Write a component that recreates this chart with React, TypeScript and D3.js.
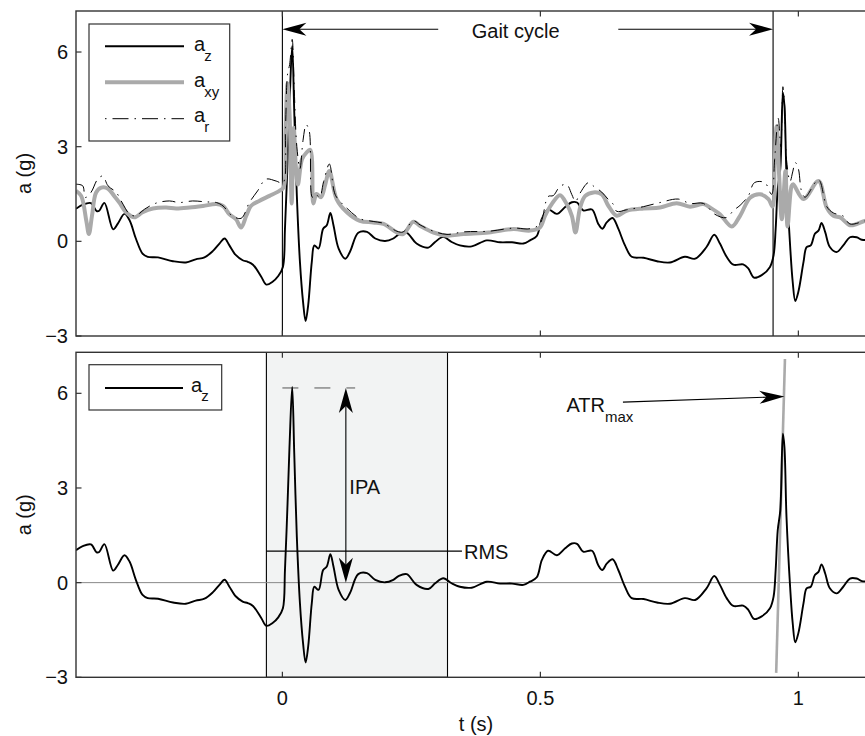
import React from 'react';
import * as d3 from 'd3';

// ---------- data ----------
const azTime = [-0.4, -0.387, -0.371, -0.36, -0.355, -0.345, -0.328, -0.319, -0.306, -0.296, -0.284, -0.271, -0.261, -0.241, -0.212, -0.187, -0.168, -0.151, -0.135, -0.122, -0.112, -0.103, -0.09, -0.077, -0.067, -0.057, -0.041, -0.031, -0.019, -0.008, 0.001, 0.005, 0.01, 0.014, 0.019, 0.023, 0.028, 0.034, 0.04, 0.045, 0.05, 0.057, 0.062, 0.07, 0.079, 0.086, 0.093, 0.099, 0.109, 0.122, 0.131, 0.147, 0.164, 0.18, 0.199, 0.215, 0.225, 0.241, 0.26, 0.283, 0.296, 0.312, 0.328, 0.344, 0.367, 0.396, 0.422, 0.445, 0.467, 0.48, 0.493, 0.503, 0.515, 0.532, 0.548, 0.561, 0.571, 0.583, 0.6, 0.612, 0.62, 0.629, 0.64, 0.651, 0.664, 0.677, 0.7, 0.726, 0.751, 0.78, 0.8, 0.822, 0.837, 0.848, 0.861, 0.874, 0.893, 0.903, 0.914, 0.929, 0.945, 0.952, 0.956, 0.96, 0.965, 0.97, 0.973, 0.977, 0.984, 0.989, 0.994, 1.0, 1.01, 1.016, 1.024, 1.032, 1.039, 1.045, 1.052, 1.061, 1.074, 1.087, 1.1, 1.113, 1.123, 1.14];
const azValue = [1.03, 1.16, 1.21, 0.96, 0.97, 1.22, 0.38, 0.56, 0.87, 0.66, 0.09, -0.39, -0.49, -0.51, -0.63, -0.67, -0.57, -0.51, -0.31, -0.07, 0.09, -0.12, -0.44, -0.6, -0.65, -0.74, -1.12, -1.37, -1.28, -1.1, -0.81, 0.4, 2.51, 4.4, 6.2, 4.09, 1.45, -0.65, -1.91, -2.53, -2.02, -0.65, -0.13, -0.23, 0.4, 0.51, 0.9, 0.51, -0.23, -0.55, -0.33, 0.27, 0.3, 0.09, 0.01, 0.09, 0.21, 0.27, -0.07, -0.2, -0.02, 0.14, -0.02, -0.13, -0.16, 0.03, -0.03, -0.03, -0.07, 0.03, 0.17, 0.72, 1.01, 0.87, 1.09, 1.24, 1.23, 0.98, 1.01, 0.56, 0.4, 0.61, 0.74, 0.4, -0.13, -0.49, -0.52, -0.63, -0.67, -0.49, -0.55, -0.18, 0.21, -0.07, -0.49, -0.74, -0.73, -0.86, -1.15, -1.07, -0.81, -0.44, 0.4, 1.66, 2.3, 4.72, 4.3, 2.08, -0.13, -1.28, -1.89, -1.6, -0.65, -0.18, -0.13, 0.24, 0.34, 0.58, 0.29, -0.18, -0.34, -0.13, 0.13, 0.13, 0.05, 0.05];

const axyTime = [-0.4, -0.39, -0.38, -0.375, -0.369, -0.361, -0.351, -0.338, -0.326, -0.316, -0.303, -0.287, -0.271, -0.251, -0.225, -0.206, -0.18, -0.154, -0.128, -0.115, -0.103, -0.09, -0.08, -0.07, -0.061, -0.045, -0.025, -0.006, 0.002, 0.006, 0.01, 0.014, 0.018, 0.022, 0.026, 0.03, 0.038, 0.046, 0.054, 0.06, 0.066, 0.075, 0.083, 0.091, 0.105, 0.125, 0.15, 0.176, 0.196, 0.222, 0.234, 0.254, 0.267, 0.293, 0.319, 0.351, 0.4, 0.448, 0.48, 0.499, 0.509, 0.522, 0.538, 0.551, 0.561, 0.568, 0.577, 0.587, 0.603, 0.619, 0.632, 0.648, 0.667, 0.7, 0.732, 0.764, 0.79, 0.816, 0.829, 0.848, 0.871, 0.887, 0.907, 0.926, 0.942, 0.95, 0.954, 0.958, 0.963, 0.968, 0.975, 0.979, 0.987, 0.99, 1.01, 1.039, 1.055, 1.068, 1.081, 1.1, 1.113, 1.129, 1.14];
const axyValue = [1.6, 1.44, 0.65, 0.23, 0.81, 1.55, 1.7, 1.67, 1.44, 1.23, 0.92, 0.76, 0.92, 1.04, 1.07, 1.04, 1.07, 1.12, 1.18, 1.12, 0.86, 0.7, 0.44, 0.81, 1.12, 1.28, 1.44, 1.6, 1.7, 3.5, 5.0, 4.0, 1.2, 3.6, 2.4, 1.8, 2.6, 2.8, 2.9, 1.2, 1.5, 1.4, 1.8, 2.23, 1.34, 0.92, 0.65, 0.6, 0.55, 0.28, 0.23, 0.62, 0.49, 0.28, 0.18, 0.23, 0.28, 0.39, 0.34, 0.44, 0.81, 1.18, 1.46, 1.18, 0.81, 0.28, 1.07, 1.44, 1.55, 1.49, 1.12, 0.81, 0.97, 1.04, 1.07, 1.21, 1.1, 1.18, 1.07, 0.86, 0.47, 0.81, 1.39, 1.49, 1.34, 1.1, 2.5, 3.65, 2.0, 0.7, 2.23, 0.47, 1.76, 1.81, 1.34, 1.91, 1.07, 0.81, 0.76, 0.51, 0.55, 0.65, 0.68];

const arTime = [-0.4, -0.387, -0.382, -0.371, -0.358, -0.348, -0.338, -0.322, -0.309, -0.296, -0.284, -0.267, -0.245, -0.219, -0.2, -0.174, -0.148, -0.128, -0.115, -0.099, -0.08, -0.064, -0.048, -0.032, -0.012, 0.001, 0.006, 0.01, 0.014, 0.019, 0.023, 0.028, 0.034, 0.04, 0.046, 0.052, 0.058, 0.064, 0.072, 0.08, 0.091, 0.1, 0.105, 0.125, 0.15, 0.176, 0.196, 0.222, 0.234, 0.254, 0.267, 0.293, 0.319, 0.351, 0.4, 0.448, 0.48, 0.499, 0.515, 0.525, 0.538, 0.551, 0.561, 0.568, 0.577, 0.593, 0.603, 0.619, 0.632, 0.641, 0.648, 0.667, 0.7, 0.732, 0.767, 0.79, 0.816, 0.838, 0.86, 0.875, 0.887, 0.903, 0.915, 0.935, 0.948, 0.954, 0.961, 0.966, 0.97, 0.973, 0.977, 0.984, 0.989, 0.994, 1.0, 1.006, 1.013, 1.039, 1.055, 1.068, 1.087, 1.1, 1.129, 1.14];
const arValue = [1.81, 1.76, 1.39, 1.55, 1.97, 2.07, 1.76, 1.55, 1.18, 0.86, 0.81, 1.02, 1.21, 1.28, 1.23, 1.28, 1.25, 1.23, 1.12, 0.83, 0.73, 1.23, 1.6, 1.97, 1.91, 1.85, 3.6, 5.3, 5.6, 6.4, 4.8, 3.0, 2.3, 3.2, 3.7, 3.5, 1.4, 1.5, 1.4, 1.9, 2.45, 1.6, 1.4, 1.05, 0.72, 0.63, 0.57, 0.32, 0.3, 0.65, 0.52, 0.32, 0.22, 0.3, 0.32, 0.42, 0.4, 0.55, 1.42, 1.45, 1.74, 1.8, 1.48, 1.26, 1.53, 1.86, 1.75, 1.56, 1.32, 1.18, 0.95, 1.0, 1.1, 1.23, 1.34, 1.2, 1.2, 0.86, 0.75, 0.99, 1.14, 1.44, 1.86, 1.86, 1.49, 2.6, 3.9, 3.0, 4.9, 4.4, 2.6, 1.9, 2.2, 2.5, 2.3, 1.6, 1.4, 1.95, 1.1, 0.9, 0.8, 0.55, 0.65, 0.68];

const xTicks = [0, 0.5, 1];
const xTickLabels = ['0', '0.5', '1'];
const yTicks = [-3, 0, 3, 6];
const yTickLabels = ['\u22123', '0', '3', '6'];

// annotations (data coordinates)
const gaitCycle = [0, 0.951];
const gaitArrowLevel = 6.72;
const gaitArrowInner = [0.302, 0.651];
const gaitLabelTime = 0.452;
const analysisWindow = [-0.031, 0.32];
const rmsLevel = 1.0;
const rmsEnd = 0.348;
const ipaTime = 0.123;
const ipaPeak = 6.17;
const ipaDashEnd = 0.141;
const atrTangentTime = [0.957, 0.974];
const atrTangentValue = [-2.86, 7.09];
const atrArrowTime = [0.66, 0.973];
const atrArrowValue = [5.72, 5.9];

const W = 865;
const H = 736;
const FONT = '"Liberation Sans", Arial, Helvetica, sans-serif';
const FRAME = '#333';

const x = d3.scaleLinear().domain([-0.4, 1.14]).range([76, 870.6]);
const yTop = d3.scaleLinear().domain([-3, 7.3]).range([336, 11]);
const yBot = d3.scaleLinear().domain([-3, 7.3]).range([677.3, 352.3]);

function pts(t: number[], v: number[]): [number, number][] {
  return t.map((ti, i) => [ti, v[i]]);
}

function linePath(t: number[], v: number[], y: d3.ScaleLinear<number, number>) {
  return d3
    .line<[number, number]>()
    .x((d) => x(d[0]))
    .y((d) => y(d[1]))
    .curve(d3.curveCatmullRom.alpha(0.5))(pts(t, v)) as string;
}

function arrowHead(tx: number, ty: number, fx: number, fy: number, L = 22, Wd = 6.5, N = 6) {
  const dx = tx - fx;
  const dy = ty - fy;
  const len = Math.hypot(dx, dy);
  const ux = dx / len;
  const uy = dy / len;
  const nx = -uy;
  const ny = ux;
  const bx = tx - L * ux;
  const by = ty - L * uy;
  const mx = tx - (L - N) * ux;
  const my = ty - (L - N) * uy;
  return `M${tx},${ty}L${bx + Wd * nx},${by + Wd * ny}L${mx},${my}L${bx - Wd * nx},${by - Wd * ny}Z`;
}

function Axes({ y, showXLabels }: { y: d3.ScaleLinear<number, number>; showXLabels: boolean }) {
  const [x0, x1] = x.range();
  const [b, t] = y.range();
  return (
    <g>
      {yTicks.map((v, i) => (
        <g key={'y' + i}>
          <line x1={x0} x2={x0 + 5.5} y1={y(v)} y2={y(v)} stroke={FRAME} strokeWidth={1.2} />
          <text x={68} y={y(v) + 7} textAnchor="end" fontSize={20} fontFamily={FONT} fill="#111">
            {yTickLabels[i]}
          </text>
        </g>
      ))}
      {xTicks.map((v, i) => (
        <g key={'x' + i}>
          <line x1={x(v)} x2={x(v)} y1={t} y2={t + 5.5} stroke={FRAME} strokeWidth={1.2} />
          <line x1={x(v)} x2={x(v)} y1={b} y2={b - 5.5} stroke={FRAME} strokeWidth={1.2} />
          {showXLabels && (
            <text x={x(v)} y={705} textAnchor="middle" fontSize={20} fontFamily={FONT} fill="#111">
              {xTickLabels[i]}
            </text>
          )}
        </g>
      ))}
      <rect x={x0} y={t} width={x1 - x0} height={b - t} fill="none" stroke={FRAME} strokeWidth={1.4} />
    </g>
  );
}

export default function App() {
  const [x0, x1] = x.range();
  const topBox = { y0: yTop.range()[1], y1: yTop.range()[0] };
  const botBox = { y0: yBot.range()[1], y1: yBot.range()[0] };
  const gaitY = yTop(gaitArrowLevel);

  return (
    <svg
      width={W}
      height={H}
      viewBox={`0 0 ${W} ${H}`}
      style={{ position: 'absolute', left: 0, top: 0, background: '#fff' }}
    >
      <defs>
        <clipPath id="clipTop">
          <rect x={x0} y={topBox.y0} width={x1 - x0} height={topBox.y1 - topBox.y0} />
        </clipPath>
        <clipPath id="clipBot">
          <rect x={x0} y={botBox.y0} width={x1 - x0} height={botBox.y1 - botBox.y0} />
        </clipPath>
      </defs>
      <rect x={0} y={0} width={W} height={H} fill="#fff" />

      {/* ---------------- top panel ---------------- */}
      <g clipPath="url(#clipTop)">
        {gaitCycle.map((t, i) => (
          <line key={i} x1={x(t)} x2={x(t)} y1={topBox.y0} y2={topBox.y1} stroke="#000" strokeWidth={1.1} />
        ))}
        <path d={linePath(azTime, azValue, yTop)} fill="none" stroke="#000" strokeWidth={1.9} strokeLinejoin="round" />
        <path d={linePath(axyTime, axyValue, yTop)} fill="none" stroke="#aaa" strokeWidth={4} strokeLinejoin="round" />
        <path
          d={linePath(arTime, arValue, yTop)}
          fill="none"
          stroke="#000"
          strokeWidth={1}
          strokeDasharray="13,6,1.5,6"
        />
      </g>
      {/* gait cycle arrows */}
      <line x1={x(gaitCycle[0]) + 10} x2={x(gaitArrowInner[0])} y1={gaitY} y2={gaitY} stroke="#000" strokeWidth={1.1} />
      <path d={arrowHead(x(gaitCycle[0]), gaitY, x(gaitArrowInner[0]), gaitY, 24, 6.5, 7)} fill="#000" />
      <line x1={x(gaitArrowInner[1])} x2={x(gaitCycle[1]) - 10} y1={gaitY} y2={gaitY} stroke="#000" strokeWidth={1.1} />
      <path d={arrowHead(x(gaitCycle[1]), gaitY, x(gaitArrowInner[1]), gaitY, 24, 6.5, 7)} fill="#000" />
      <text x={x(gaitLabelTime)} y={37.5} textAnchor="middle" fontSize={20} fontFamily={FONT} fill="#111">
        Gait cycle
      </text>
      <Axes y={yTop} showXLabels={false} />

      {/* top legend */}
      <rect x={89} y={24} width={140.7} height={117} fill="#fff" stroke={FRAME} strokeWidth={1.2} />
      <line x1={105} x2={184} y1={46.3} y2={46.3} stroke="#000" strokeWidth={1.9} />
      <text x={194} y={50.5} fontSize={20} fontFamily={FONT} fill="#111">
        a<tspan dx={-1} dy={10} fontSize={15}>z</tspan>
      </text>
      <line x1={105} x2={184} y1={82.3} y2={82.3} stroke="#aaa" strokeWidth={4} />
      <text x={194} y={86.5} fontSize={20} fontFamily={FONT} fill="#111">
        a<tspan dx={-1} dy={10} fontSize={15}>xy</tspan>
      </text>
      <line x1={105} x2={184} y1={118.7} y2={118.7} stroke="#000" strokeWidth={1} strokeDasharray="1.5,6,16,6" />
      <text x={194} y={122} fontSize={20} fontFamily={FONT} fill="#111">
        a<tspan dx={-1} dy={10} fontSize={15}>r</tspan>
      </text>

      {/* ---------------- bottom panel ---------------- */}
      <g clipPath="url(#clipBot)">
        <rect
          x={x(analysisWindow[0])}
          y={botBox.y0}
          width={x(analysisWindow[1]) - x(analysisWindow[0])}
          height={botBox.y1 - botBox.y0}
          fill="#f2f3f3"
          stroke="#000"
          strokeWidth={1.1}
        />
        <line x1={x0} x2={x1} y1={yBot(0)} y2={yBot(0)} stroke="#888" strokeWidth={1} />
        <line
          x1={x(analysisWindow[0])}
          x2={x(rmsEnd)}
          y1={yBot(rmsLevel)}
          y2={yBot(rmsLevel)}
          stroke="#000"
          strokeWidth={1.1}
        />
        <line
          x1={x(0)}
          x2={x(ipaDashEnd)}
          y1={yBot(ipaPeak)}
          y2={yBot(ipaPeak)}
          stroke="#555"
          strokeWidth={1}
          strokeDasharray="16,16"
        />
        <line
          x1={x(atrTangentTime[0])}
          x2={x(atrTangentTime[1])}
          y1={yBot(atrTangentValue[0])}
          y2={yBot(atrTangentValue[1])}
          stroke="#aaa"
          strokeWidth={2.6}
        />
        <path d={linePath(azTime, azValue, yBot)} fill="none" stroke="#000" strokeWidth={1.9} strokeLinejoin="round" />
      </g>
      {/* IPA double arrow */}
      <line
        x1={x(ipaTime)}
        x2={x(ipaTime)}
        y1={yBot(ipaPeak) + 10}
        y2={yBot(0) - 10}
        stroke="#000"
        strokeWidth={1.1}
      />
      <path d={arrowHead(x(ipaTime), yBot(ipaPeak), x(ipaTime), yBot(0), 25, 7, 7)} fill="#000" />
      <path d={arrowHead(x(ipaTime), yBot(0), x(ipaTime), yBot(ipaPeak), 25, 7, 7)} fill="#000" />
      <text x={x(ipaTime) + 3.5} y={493.5} fontSize={20} fontFamily={FONT} fill="#111">
        IPA
      </text>
      <text x={x(rmsEnd) + 2} y={yBot(rmsLevel) + 8} fontSize={20} fontFamily={FONT} fill="#111">
        RMS
      </text>
      {/* ATR arrow */}
      <line
        x1={x(atrArrowTime[0])}
        x2={x(atrArrowTime[1]) - 12}
        y1={yBot(atrArrowValue[0])}
        y2={yBot(atrArrowValue[1]) + 0.5}
        stroke="#000"
        strokeWidth={1.1}
      />
      <path
        d={arrowHead(
          x(atrArrowTime[1]),
          yBot(atrArrowValue[1]),
          x(atrArrowTime[0]),
          yBot(atrArrowValue[0]),
          25,
          6.5,
          7
        )}
        fill="#000"
      />
      <text x={566.5} y={411.5} fontSize={20} fontFamily={FONT} fill="#111">
        ATR<tspan dx={0} dy={10} fontSize={15}>max</tspan>
      </text>
      <Axes y={yBot} showXLabels={true} />

      {/* bottom legend */}
      <rect x={89} y={364.7} width={132.7} height={45.3} fill="#fff" stroke={FRAME} strokeWidth={1.2} />
      <line x1={105} x2={183} y1={388} y2={388} stroke="#000" strokeWidth={1.9} />
      <text x={191} y={392} fontSize={20} fontFamily={FONT} fill="#111">
        a<tspan dx={-1} dy={9} fontSize={15}>z</tspan>
      </text>

      {/* axis labels */}
      <text
        transform={`translate(31,${(topBox.y0 + topBox.y1) / 2}) rotate(-90)`}
        textAnchor="middle"
        fontSize={20}
        fontFamily={FONT}
        fill="#111"
      >
        a (g)
      </text>
      <text
        transform={`translate(31,${(botBox.y0 + botBox.y1) / 2}) rotate(-90)`}
        textAnchor="middle"
        fontSize={20}
        fontFamily={FONT}
        fill="#111"
      >
        a (g)
      </text>
      <text x={476} y={731} textAnchor="middle" fontSize={20} fontFamily={FONT} fill="#111">
        t (s)
      </text>
    </svg>
  );
}
